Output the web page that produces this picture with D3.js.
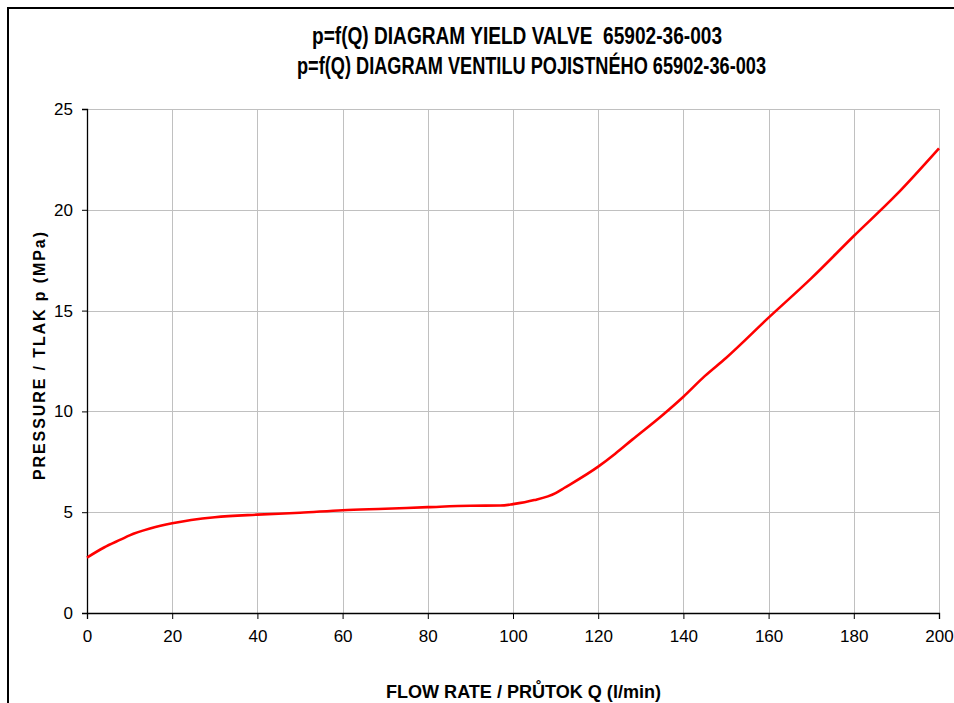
<!DOCTYPE html>
<html>
<head>
<meta charset="utf-8">
<script src="https://cdn.jsdelivr.net/npm/d3@7"></script>
<style>
  body { margin: 0; background: #fff; }
  svg { display: block; font-family: 'Liberation Sans', Arial, sans-serif; }
  text { white-space: pre; }
</style>
</head>
<body>
<svg id="chart" width="954" height="703"></svg>
<script>
// flow rate Q (l/min) and pressure p (MPa)
const flowRate = [0, 4, 8, 10, 15, 20, 30, 40, 50, 60, 70, 80, 90, 97, 100, 105, 110, 112, 120, 124, 128, 135, 140, 145, 150, 160, 170, 180, 190, 200];
const pressure = [2.75, 3.25, 3.65, 3.85, 4.2, 4.45, 4.75, 4.88, 4.97, 5.1, 5.17, 5.25, 5.32, 5.33, 5.4, 5.6, 5.95, 6.2, 7.26, 7.9, 8.6, 9.8, 10.73, 11.75, 12.65, 14.65, 16.6, 18.7, 20.75, 23.05];

const xTicks = [0, 20, 40, 60, 80, 100, 120, 140, 160, 180, 200];
const yTicks = [0, 5, 10, 15, 20, 25];

const titleLines = [
  'p=f(Q) DIAGRAM YIELD VALVE  65902-36-003',
  'p=f(Q) DIAGRAM VENTILU POJISTNÉHO 65902-36-003'
];
const xTitle = 'FLOW RATE / PRŮTOK Q (l/min)';
const yTitle = 'PRESSURE / TLAK p (MPa)';

const svg = d3.select('#chart');

// plot area
const plot = { left: 87, right: 939, top: 109, bottom: 613 };

const x = d3.scaleLinear().domain([0, 200]).range([plot.left, plot.right]);
const y = d3.scaleLinear().domain([0, 25]).range([plot.bottom, plot.top]);

// outer frame (only left + top visible)
svg.append('path')
  .attr('d', 'M8,703 L8,8 L954,8')
  .attr('fill', 'none')
  .attr('stroke', '#000')
  .attr('stroke-width', 2);

// grid
const grid = svg.append('g').attr('stroke', '#c0c0c0').attr('stroke-width', 1);
grid.selectAll('line.v')
  .data(xTicks.slice(1))
  .enter()
  .append('line')
  .attr('class', 'v')
  .attr('x1', d => Math.round(x(d)) + 0.5)
  .attr('x2', d => Math.round(x(d)) + 0.5)
  .attr('y1', plot.top)
  .attr('y2', plot.bottom);
grid.selectAll('line.h')
  .data(yTicks.slice(1))
  .enter()
  .append('line')
  .attr('class', 'h')
  .attr('x1', plot.left)
  .attr('x2', plot.right)
  .attr('y1', d => Math.round(y(d)) + 0.5)
  .attr('y2', d => Math.round(y(d)) + 0.5);

// axes
const xAxis = svg.append('g')
  .attr('transform', `translate(0,${plot.bottom})`)
  .call(d3.axisBottom(x).tickValues(xTicks).tickSize(6).tickPadding(11).tickFormat(d3.format('d')));
const yAxis = svg.append('g')
  .attr('transform', `translate(${plot.left},0)`)
  .call(d3.axisLeft(y).tickValues(yTicks).tickSize(5).tickPadding(9).tickFormat(d3.format('d')));

[xAxis, yAxis].forEach(g => {
  g.select('.domain').attr('stroke', '#000').attr('stroke-width', 1.3);
  g.selectAll('.tick line').attr('stroke', '#000');
  g.selectAll('.tick text')
    .attr('fill', '#000')
    .style('font-size', '17px')
    .style('font-family', "'Liberation Sans', Arial, sans-serif");
});

// curve
const line = d3.line()
  .x((d, i) => x(flowRate[i]))
  .y(d => y(d))
  .curve(d3.curveMonotoneX);

svg.append('path')
  .datum(pressure)
  .attr('d', line)
  .attr('fill', 'none')
  .attr('stroke', '#ff0000')
  .attr('stroke-width', 2.6)
  .attr('stroke-linejoin', 'round');

// titles (Excel-style narrow bold, squeezed to the measured widths)
svg.append('text')
  .attr('x', 312).attr('y', 44)
  .attr('textLength', 410)
  .attr('lengthAdjust', 'spacingAndGlyphs')
  .attr('font-size', 23).attr('font-weight', 'bold')
  .text(titleLines[0]);
svg.append('text')
  .attr('x', 297).attr('y', 74)
  .attr('textLength', 469)
  .attr('lengthAdjust', 'spacingAndGlyphs')
  .attr('font-size', 23).attr('font-weight', 'bold')
  .text(titleLines[1]);

svg.append('text')
  .attr('x', 386).attr('y', 698)
  .attr('textLength', 275)
  .attr('lengthAdjust', 'spacingAndGlyphs')
  .attr('font-size', 19).attr('font-weight', 'bold')
  .text(xTitle);

svg.append('text')
  .attr('transform', 'translate(45,356) rotate(-90)')
  .attr('text-anchor', 'middle')
  .attr('textLength', 248)
  .attr('lengthAdjust', 'spacing')
  .attr('font-size', 16).attr('font-weight', 'bold')
  .text(yTitle);
</script>
</body>
</html>
